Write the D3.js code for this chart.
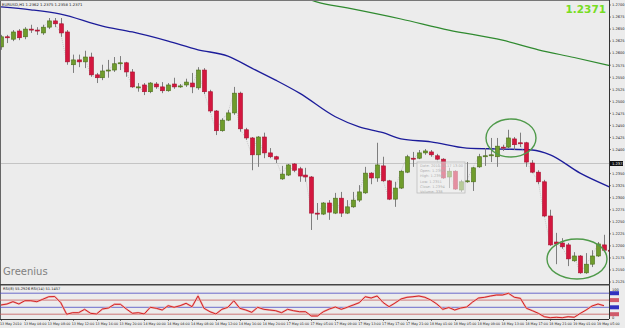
<!DOCTYPE html>
<html>
<head>
<meta charset="utf-8">
<script src="https://cdn.jsdelivr.net/npm/d3@7/dist/d3.min.js"></script>
<style>
body { margin: 0; background: #e9e9e9; }
svg { display: block; }
text { font-family: "DejaVu Sans", sans-serif; }
</style>
</head>
<body>
<div id="chart"></div>
<script>
// EURUSD H1, 13 May 2010 -> 19 May 2010 (one value per bar)
var opens  = [1.2613,1.2634,1.2629,1.2646,1.2634,1.2650,1.2648,1.2642,1.2654,1.2667,1.2661,1.2644,1.2576,1.2586,1.2582,1.2592,1.2555,1.2549,1.2563,1.2565,1.2578,1.2580,1.2561,1.2530,1.2534,1.2520,1.2536,1.2530,1.2522,1.2536,1.2530,1.2534,1.2538,1.2528,1.2565,1.2520,1.2480,1.2439,1.2461,1.2476,1.2517,1.2441,1.2424,1.2389,1.2426,1.2393,1.2385,1.2339,1.2347,1.2370,1.2360,1.2347,1.2343,1.2268,1.2266,1.2289,1.2268,1.2299,1.2268,1.2281,1.2295,1.2310,1.2351,1.2341,1.2366,1.2335,1.2297,1.2320,1.2353,1.2382,1.2382,1.2393,1.2395,1.2387,1.2380,1.2343,1.2355,1.2316,1.2333,1.2333,1.2364,1.2385,1.2387,1.2385,1.2405,1.2405,1.2422,1.2414,1.2414,1.2372,1.2353,1.2333,1.2262,1.2208,1.2206,1.2202,1.2169,1.2179,1.2144,1.2162,1.2179,1.2202,1.2191];
var highs  = [1.2638,1.2638,1.2648,1.2650,1.2654,1.2659,1.2654,1.2659,1.2673,1.2673,1.2673,1.2648,1.2597,1.2597,1.2605,1.2601,1.2559,1.2576,1.2586,1.2592,1.2594,1.2582,1.2567,1.2538,1.2538,1.2540,1.2540,1.2540,1.2538,1.2549,1.2536,1.2547,1.2559,1.2571,1.2569,1.2524,1.2482,1.2465,1.2482,1.2530,1.2520,1.2445,1.2426,1.2428,1.2435,1.2403,1.2387,1.2366,1.2370,1.2372,1.2364,1.2362,1.2345,1.2289,1.2291,1.2295,1.2310,1.2312,1.2295,1.2312,1.2326,1.2364,1.2353,1.2414,1.2385,1.2337,1.2333,1.2357,1.2389,1.2395,1.2399,1.2401,1.2399,1.2391,1.2382,1.2362,1.2357,1.2337,1.2374,1.2364,1.2391,1.2403,1.2424,1.2424,1.2410,1.2441,1.2426,1.2435,1.2416,1.2378,1.2357,1.2337,1.2275,1.2227,1.2216,1.2206,1.2187,1.2181,1.2185,1.2191,1.2208,1.2223,1.2195];
var lows   = [1.2607,1.2621,1.2625,1.2627,1.2629,1.2642,1.2638,1.2638,1.2650,1.2654,1.2634,1.2576,1.2559,1.2571,1.2569,1.2551,1.2538,1.2544,1.2549,1.2561,1.2565,1.2551,1.2528,1.2520,1.2513,1.2517,1.2526,1.2517,1.2520,1.2526,1.2528,1.2530,1.2517,1.2524,1.2515,1.2476,1.2430,1.2437,1.2459,1.2472,1.2437,1.2420,1.2357,1.2364,1.2382,1.2382,1.2372,1.2337,1.2345,1.2353,1.2333,1.2333,1.2233,1.2254,1.2264,1.2254,1.2266,1.2260,1.2266,1.2279,1.2291,1.2308,1.2328,1.2333,1.2333,1.2295,1.2281,1.2318,1.2351,1.2364,1.2380,1.2389,1.2385,1.2378,1.2339,1.2320,1.2316,1.2312,1.2331,1.2314,1.2362,1.2366,1.2374,1.2364,1.2397,1.2403,1.2399,1.2405,1.2364,1.2351,1.2328,1.2260,1.2200,1.2162,1.2194,1.2158,1.2167,1.2142,1.2142,1.2156,1.2177,1.2187,1.2187];
var closes = [1.2634,1.2632,1.2644,1.2632,1.2650,1.2649,1.2646,1.2654,1.2667,1.2661,1.2642,1.2582,1.2586,1.2582,1.2592,1.2555,1.2549,1.2563,1.2565,1.2578,1.2580,1.2561,1.2530,1.2530,1.2520,1.2538,1.2530,1.2522,1.2534,1.2530,1.2532,1.2540,1.2530,1.2565,1.2520,1.2480,1.2439,1.2461,1.2476,1.2517,1.2443,1.2424,1.2389,1.2426,1.2393,1.2385,1.2380,1.2349,1.2368,1.2357,1.2345,1.2343,1.2268,1.2266,1.2289,1.2270,1.2299,1.2268,1.2281,1.2295,1.2312,1.2351,1.2341,1.2368,1.2335,1.2297,1.2320,1.2355,1.2385,1.2380,1.2393,1.2397,1.2389,1.2380,1.2341,1.2355,1.2318,1.2333,1.2335,1.2362,1.2385,1.2387,1.2389,1.2407,1.2403,1.2424,1.2410,1.2412,1.2374,1.2353,1.2333,1.2262,1.2202,1.2204,1.2198,1.2173,1.2179,1.2144,1.2162,1.2179,1.2204,1.2191,1.2190];

// moving averages: [bar, price]
var maBlue  = [[0,1.2696],[5,1.2690],[10,1.2681],[17,1.2656],[22,1.2644],[28,1.2625],[33,1.2607],[38,1.2594],[42,1.2569],[46,1.2544],[50,1.2517],[56,1.2468],[60,1.2447],[64,1.2435],[67,1.2422],[72,1.2416],[78,1.2403],[84,1.2401],[89,1.2399],[92,1.2389],[97,1.2351],[102,1.2322]];
var maGreen = [[50,1.2719],[53,1.2706],[58,1.2694],[67,1.2671],[75,1.2648],[84,1.2627],[90,1.2607],[96,1.2591],[102,1.2574]];

// RSI(8)
var rsi = [46.7,50,57.7,50,61,61,57.7,65.7,74.3,75,55,15.7,21,21,32.3,19,16.7,33.3,36.7,49,49,33.3,19,21,16.7,39,35.7,30,44.3,39,44.3,52.3,41,76.7,35.7,24.3,16.7,32.3,39,61,35.7,30,22.3,39,32.3,30,27.7,21,32.3,27.7,24.3,24.3,10,10,24.3,33.3,40,32.3,39,46.7,54.3,74.3,70,76.7,55,41,53.3,66.7,72.3,74.3,76.7,72.3,63.3,50,32.3,38.3,30,36.7,40,56.7,70,72.3,76.7,80,80,85.7,72.3,69,35.7,27.7,19,7.7,4.3,5.7,4.3,7.7,5.7,18.3,30,43.3,50,44.3];
var rsiLevels = [86, 63, 39, 16];
var rsiLevelColors = ["#4a4ac4", "#c85a5a", "#4a4ac4", "#c85a5a"];

var priceTicks = [1.2700,1.2675,1.2650,1.2625,1.2600,1.2575,1.2550,1.2525,1.2500,1.2475,1.2450,1.2425,1.2400,1.2350,1.2325,1.2300,1.2275,1.2250,1.2225,1.2200,1.2175,1.2150,1.2125];
var timeLabels = ["13 May 2010","13 May 04:00","13 May 08:00","13 May 12:00","13 May 16:00","13 May 20:00","14 May 00:00","14 May 04:00","14 May 08:00","14 May 12:00","14 May 16:00","14 May 20:00","17 May 01:00","17 May 05:00","17 May 09:00","17 May 13:00","17 May 17:00","17 May 21:00","18 May 01:00","18 May 05:00","18 May 09:00","18 May 13:00","18 May 17:00","18 May 21:00","19 May 01:00","19 May 05:00"];
var currentPrice = 1.2371;

var W = 625, H = 328;
var axisX = 609;          // right price axis
var mainTop = 0, mainBottom = 284;
var rsiTop = 285, rsiBottom = 319;

var svg = d3.select("#chart").append("svg")
    .attr("width", W).attr("height", H);

svg.append("rect").attr("width", W).attr("height", H).attr("fill", "#ececec");

var x = d3.scaleLinear().domain([0, 101]).range([1, 604]);
var y = d3.scaleLinear().domain([1.2125, 1.27]).range([282, 5]);
var yr = d3.scaleLinear().domain([0, 100]).range([319, 289]);

svg.append("clipPath").attr("id", "plotclip")
    .append("rect").attr("x", 0).attr("y", mainTop + 1).attr("width", axisX).attr("height", mainBottom - mainTop - 1);

var plot = svg.append("g").attr("clip-path", "url(#plotclip)");

// current price line
plot.append("line")
    .attr("x1", 0).attr("x2", axisX)
    .attr("y1", Math.round(y(currentPrice)) + 0.5).attr("y2", Math.round(y(currentPrice)) + 0.5)
    .attr("stroke", "#c4c4c4").attr("stroke-width", 1);

// moving averages
var maLine = d3.line()
    .x(function(d) { return x(d[0]); })
    .y(function(d) { return y(d[1]); })
    .curve(d3.curveMonotoneX);

plot.append("path").datum(maGreen).attr("d", maLine)
    .attr("fill", "none").attr("stroke", "#2f8a2f").attr("stroke-width", 1.2);
plot.append("path").datum(maBlue).attr("d", maLine)
    .attr("fill", "none").attr("stroke", "#1c1c9a").attr("stroke-width", 1.3);

// close line (dotted, very faint)
plot.append("path").datum(closes)
    .attr("d", d3.line().x(function(d, i) { return x(i); }).y(function(d) { return y(d); }))
    .attr("fill", "none").attr("stroke", "#b8b8b8").attr("stroke-width", 0.7)
    .attr("stroke-dasharray", "1,1");

// candles
var bars = d3.range(opens.length).map(function(i) {
    return { i: i, o: opens[i], h: highs[i], l: lows[i], c: closes[i] };
});

var candle = plot.selectAll("g.candle").data(bars).enter().append("g").attr("class", "candle");

candle.append("line")
    .attr("x1", function(d) { return Math.round(x(d.i)) + 0.5; })
    .attr("x2", function(d) { return Math.round(x(d.i)) + 0.5; })
    .attr("y1", function(d) { return y(d.h); })
    .attr("y2", function(d) { return y(d.l); })
    .attr("stroke", "#7e7e7e").attr("stroke-width", 1);

candle.append("rect")
    .attr("x", function(d) { return Math.round(x(d.i)) - 1.5; })
    .attr("width", 4)
    .attr("y", function(d) { return y(Math.max(d.o, d.c)); })
    .attr("height", function(d) { return Math.max(1, Math.abs(y(d.o) - y(d.c))); })
    .attr("fill", function(d) { return d.c >= d.o ? "#6f9c2c" : "#d4173f"; })
    .attr("stroke", function(d) { return d.c >= d.o ? "#4a6e18" : "#a8102e"; })
    .attr("stroke-width", 0.6);

// tooltip box left from the mouse hover
var tip = plot.append("g").attr("transform", "translate(417,162)");
tip.append("rect").attr("width", 48).attr("height", 31)
    .attr("fill", "#f2f2f2").attr("fill-opacity", 0.55)
    .attr("stroke", "#bdbdbd").attr("stroke-width", 0.8);
var tipLines = ["Date: 2010.05.17 13:00", "Open: 1.2359", "High: 1.2394", "Low: 1.2351", "Close: 1.2394", "Volume: 338"];
tip.selectAll("text").data(tipLines).enter().append("text")
    .attr("x", 3).attr("y", function(d, i) { return 5 + i * 5.2; })
    .attr("font-size", 3.6).attr("fill", "#b0b0b0").text(function(d) { return d; });

// green circles drawn on the chart
plot.append("ellipse").attr("cx", 511).attr("cy", 138).attr("rx", 25).attr("ry", 19)
    .attr("fill", "none").attr("stroke", "#4f9a4a").attr("stroke-width", 1.4);
plot.append("ellipse").attr("cx", 577).attr("cy", 259).attr("rx", 30).attr("ry", 20)
    .attr("fill", "none").attr("stroke", "#4f9a4a").attr("stroke-width", 1.4);

// title and labels
svg.append("text").attr("x", 2).attr("y", 5.5).attr("font-size", 3.8).attr("fill", "#222")
    .text("EURUSD,H1  1.2362 1.2375 1.2358 1.2371");
svg.append("text").attr("x", 606).attr("y", 13).attr("text-anchor", "end")
    .attr("font-family", "Liberation Sans, Arial, sans-serif").attr("font-weight", "bold")
    .attr("font-size", 10.5).attr("fill", "#77dd22").text(d3.format(".4f")(currentPrice));
svg.append("text").attr("x", 3).attr("y", 275)
    .attr("font-family", "Liberation Serif, DejaVu Serif, serif")
    .attr("font-size", 10).attr("fill", "#808080").text("Greenius");

// frames
svg.append("line").attr("x1", axisX + 0.5).attr("x2", axisX + 0.5).attr("y1", 0).attr("y2", rsiBottom)
    .attr("stroke", "#333").attr("stroke-width", 1);
svg.append("line").attr("x1", 0.5).attr("x2", 0.5).attr("y1", 0).attr("y2", rsiBottom)
    .attr("stroke", "#666").attr("stroke-width", 1);
svg.append("line").attr("x1", 0).attr("x2", axisX).attr("y1", 0.5).attr("y2", 0.5)
    .attr("stroke", "#777");
svg.append("rect").attr("x", 0).attr("y", mainBottom).attr("width", axisX + 1).attr("height", 1.5)
    .attr("fill", "#444");
svg.append("line").attr("x1", 0).attr("x2", axisX).attr("y1", rsiBottom + 0.5).attr("y2", rsiBottom + 0.5)
    .attr("stroke", "#333");

// price axis
var pAxis = svg.append("g").attr("class", "paxis");
pAxis.selectAll("line").data(priceTicks).enter().append("line")
    .attr("x1", axisX).attr("x2", axisX + 2)
    .attr("y1", function(d) { return y(d); }).attr("y2", function(d) { return y(d); })
    .attr("stroke", "#333").attr("stroke-width", 0.6);
pAxis.selectAll("text").data(priceTicks).enter().append("text")
    .attr("x", axisX + 3).attr("y", function(d) { return y(d) + 1.3; })
    .attr("font-size", 3.6).attr("fill", "#222")
    .text(function(d) { return d3.format(".4f")(d); });

// current price marker on the axis
var cp = svg.append("g").attr("transform", "translate(" + (axisX + 1) + "," + y(currentPrice) + ")");
cp.append("rect").attr("x", 0).attr("y", -2.5).attr("width", 13).attr("height", 5).attr("fill", "#111");
cp.append("text").attr("x", 2).attr("y", 1.3).attr("font-size", 3.6).attr("fill", "#fff")
    .text(d3.format(".4f")(currentPrice));

// RSI panel
var rsiG = svg.append("g");
rsiG.selectAll("line.lvl").data(rsiLevels).enter().append("line").attr("class", "lvl")
    .attr("x1", 0).attr("x2", axisX)
    .attr("y1", function(d) { return yr(d); }).attr("y2", function(d) { return yr(d); })
    .attr("stroke", function(d, i) { return rsiLevelColors[i]; }).attr("stroke-width", 0.8);

var rsiLine = d3.line().x(function(d, i) { return x(i); }).y(function(d) { return yr(d); });
rsiG.append("path").datum(rsi).attr("d", rsiLine)
    .attr("fill", "none").attr("stroke", "#f2b0b0").attr("stroke-width", 2);
rsiG.append("path").datum(rsi).attr("d", rsiLine)
    .attr("fill", "none").attr("stroke", "#cc1515").attr("stroke-width", 0.9);

rsiG.append("text").attr("x", 3).attr("y", 290).attr("font-size", 3.6).attr("fill", "#222")
    .text("RSI(8) 55.2926  RSI(14) 51.1457");

rsiG.append("text").attr("x", axisX + 3).attr("y", 291).attr("font-size", 3.6).attr("fill", "#222").text("100");
rsiG.append("text").attr("x", axisX + 3).attr("y", 319).attr("font-size", 3.6).attr("fill", "#222").text("0");
rsiG.selectAll("rect.lvlbox").data(rsiLevels).enter().append("rect").attr("class", "lvlbox")
    .attr("x", axisX + 1).attr("y", function(d) { return yr(d) - 2; })
    .attr("width", 9).attr("height", 4)
    .attr("fill", function(d, i) { return i % 2 == 0 ? "#3030c0" : "#d05a6a"; });

// time axis, a label every 4 bars
var tAxis = svg.append("g");
tAxis.selectAll("line").data(timeLabels).enter().append("line")
    .attr("x1", function(d, i) { return Math.round(x(i * 4)) + 0.5; })
    .attr("x2", function(d, i) { return Math.round(x(i * 4)) + 0.5; })
    .attr("y1", rsiBottom).attr("y2", rsiBottom + 2)
    .attr("stroke", "#333").attr("stroke-width", 0.6);
tAxis.selectAll("text").data(timeLabels).enter().append("text")
    .attr("x", function(d, i) { return x(i * 4) - 1; })
    .attr("y", 325)
    .attr("font-size", 3.3).attr("fill", "#222")
    .text(function(d) { return d; });
</script>
</body>
</html>
